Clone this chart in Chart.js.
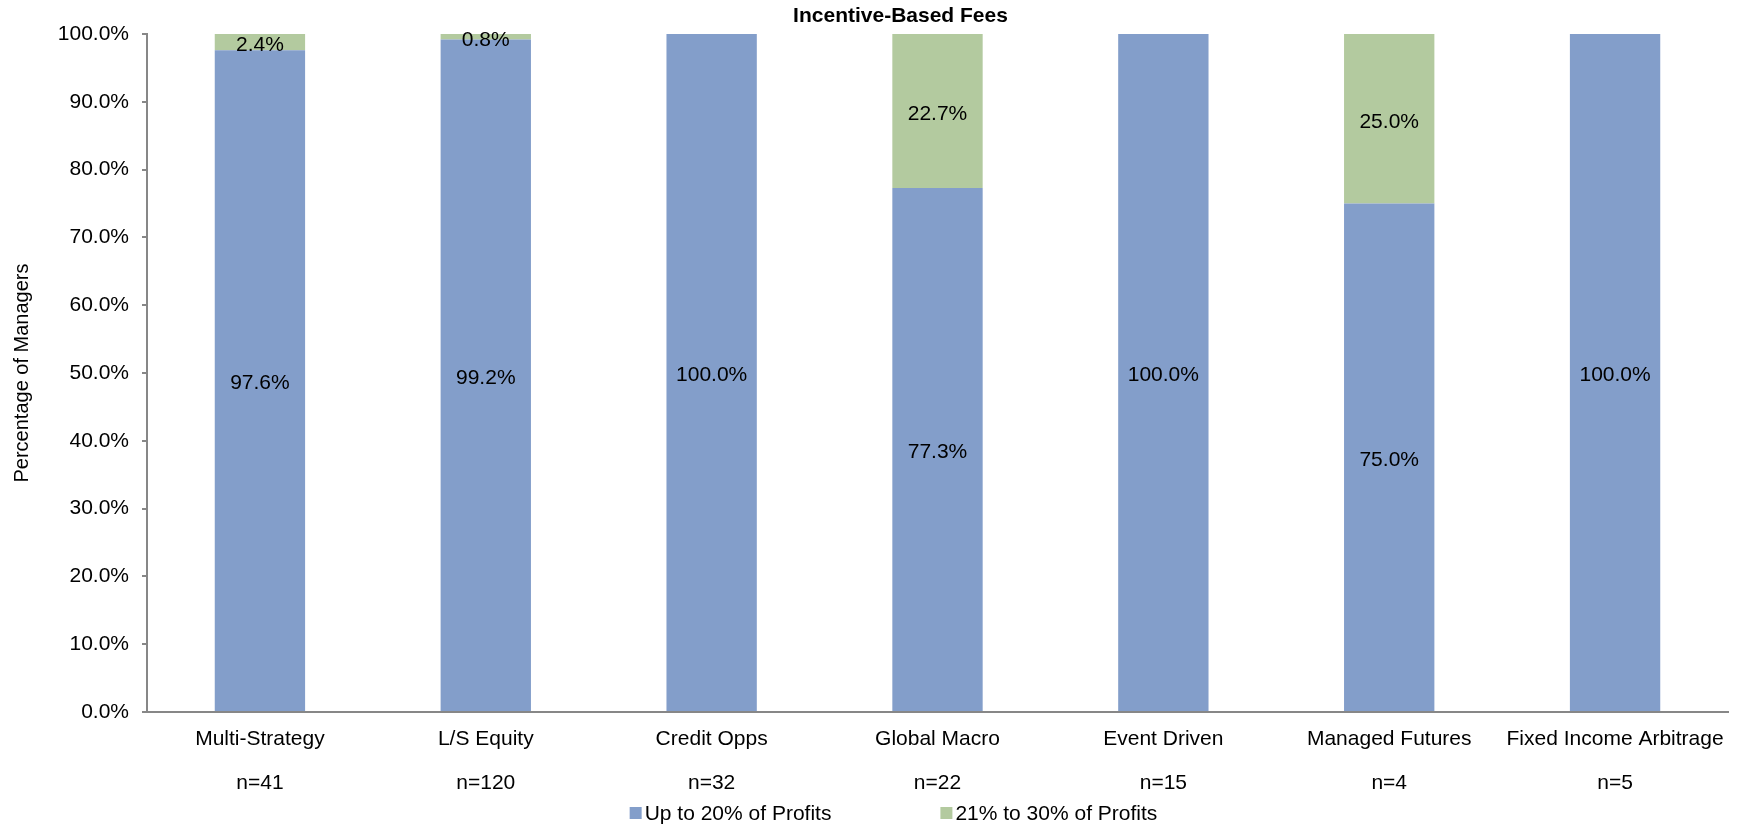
<!DOCTYPE html>
<html>
<head>
<meta charset="utf-8">
<title>Incentive-Based Fees</title>
<script src="https://cdn.jsdelivr.net/npm/chart.js@4.4.1/dist/chart.umd.min.js"></script>
<style>
  html, body { margin: 0; padding: 0; background: #fff; }
  #wrap { position: relative; width: 1745px; height: 827px; }
</style>
</head>
<body>
<div id="wrap"><canvas id="chart"></canvas></div>
<script>
/* Incentive-Based Fees — stacked % bars */

const CATEGORIES = ["Multi-Strategy", "L/S Equity", "Credit Opps", "Global Macro",
  "Event Driven", "Managed Futures", "Fixed Income Arbitrage"];
const COUNTS = ["n=41", "n=120", "n=32", "n=22", "n=15", "n=4", "n=5"];

const UP_TO_20 = [97.6, 99.2, 100.0, 77.3, 100.0, 75.0, 100.0];
const FROM_21_TO_30 = [2.4, 0.8, 0, 22.7, 0, 25.0, 0];

const SERIES_NAMES = ["Up to 20% of Profits", "21% to 30% of Profits"];
const COLORS = ["#839ECA", "#B3CA9F"];

const FONT = "'Liberation Sans', Arial, sans-serif";
const AXIS_GREY = "#878787";

// value labels in the middle of each segment
const segmentLabels = {
  id: "segmentLabels",
  afterDatasetsDraw(chart) {
    const ctx = chart.ctx;
    ctx.save();
    ctx.font = `21px ${FONT}`;
    ctx.fillStyle = "#000";
    ctx.textAlign = "center";
    ctx.textBaseline = "middle";
    chart.data.datasets.forEach((ds, i) => {
      chart.getDatasetMeta(i).data.forEach((bar, j) => {
        const v = ds.data[j];
        if (!v) return;
        const p = bar.getCenterPoint();
        ctx.fillText(v.toFixed(1) + "%", p.x, p.y + 3);
      });
    });
    ctx.restore();
  },
};

// title + legend, placed like the original sheet
const titleAndLegend = {
  id: "titleAndLegend",
  afterDraw(chart) {
    const ctx = chart.ctx;
    const area = chart.chartArea;
    const mid = (area.left + area.right) / 2;
    ctx.save();
    ctx.fillStyle = "#000";
    ctx.textBaseline = "middle";

    ctx.font = `bold 21px ${FONT}`;
    ctx.textAlign = "center";
    ctx.fillText("Incentive-Based Fees", mid - 37, 16);

    ctx.font = `21px ${FONT}`;
    ctx.textAlign = "left";
    const box = 12, gapText = 3, gapItem = 109;
    const widths = chart.data.datasets.map((d) => ctx.measureText(d.label).width);
    const total = widths.reduce((a, w) => a + box + gapText + w, 0) + gapItem * (widths.length - 1);
    let x = mid - 44 - total / 2;
    const y = 813;
    chart.data.datasets.forEach((d, i) => {
      ctx.fillStyle = d.backgroundColor;
      ctx.fillRect(x, y - box / 2, box, box);
      ctx.fillStyle = "#000";
      ctx.fillText(d.label, x + box + gapText, y + 1);
      x += box + gapText + widths[i] + gapItem;
    });
    ctx.restore();
  },
};

new Chart(document.getElementById("chart"), {
  type: "bar",
  data: {
    labels: CATEGORIES.map((c, i) => [c, COUNTS[i]]),
    datasets: [
      { label: SERIES_NAMES[0], data: UP_TO_20, backgroundColor: COLORS[0] },
      { label: SERIES_NAMES[1], data: FROM_21_TO_30, backgroundColor: COLORS[1] },
    ],
  },
  options: {
    responsive: true,
    maintainAspectRatio: false,
    animation: false,
    events: [],
    datasets: { bar: { categoryPercentage: 1, barPercentage: 0.4, borderWidth: 0 } },
    layout: { padding: { top: 34, right: 17, bottom: 23, left: 0 } },
    plugins: {
      legend: { display: false },
      title: { display: false },
      tooltip: { enabled: false },
    },
    scales: {
      x: {
        stacked: true,
        grid: { display: false },
        border: { display: true, color: AXIS_GREY, width: 2 },
        ticks: {
          color: "#000",
          padding: -3,
          maxRotation: 0,
          autoSkip: false,
          font: { family: FONT, size: 21, lineHeight: 2.1 },
        },
        afterFit(scale) { scale.height = 92; },
      },
      y: {
        stacked: true,
        min: 0,
        max: 100,
        grid: {
          display: true,
          drawOnChartArea: false,
          drawTicks: true,
          tickLength: 5,
          color: AXIS_GREY,
          lineWidth: 2,
        },
        border: { display: true, color: AXIS_GREY, width: 2 },
        ticks: {
          stepSize: 10,
          color: "#000",
          padding: 13,
          font: { family: FONT, size: 21 },
          callback: (v) => v.toFixed(1) + "%",
        },
        title: {
          display: true,
          text: "Percentage of Managers",
          color: "#000",
          padding: { top: 10, bottom: 0 },
          font: { family: FONT, size: 20 },
        },
        afterFit(scale) { scale.width = 147; },
      },
    },
  },
  plugins: [segmentLabels, titleAndLegend],
});
</script>
</body>
</html>
